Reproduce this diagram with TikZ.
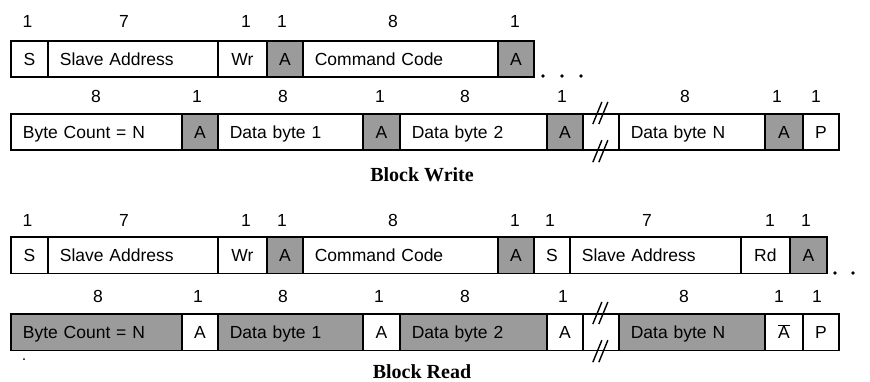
\documentclass[tikz,border=0pt]{standalone}
\usepackage{fontspec}
\setmainfont{Liberation Sans}
\newfontfamily\titlefont{Liberation Serif}
\definecolor{ackgray}{RGB}{155,155,155}
\begin{document}
\begin{tikzpicture}[x=1pt,y=-1pt,
  cell/.style={draw=black, line width=1.7pt, minimum height=36.5pt, inner ysep=0pt,
    anchor=north west, text height=12.5pt, text depth=0pt,
    font=\fontsize{17.5}{20}\selectfont},
  bit/.style={cell, minimum width=#1, inner xsep=0pt},
  wide/.style={cell, text width=#1, inner xsep=12pt, align=left},
  ack/.style={fill=ackgray},
  num/.style={inner sep=0pt, font=\fontsize{17.5}{20}\selectfont},
  title/.style={inner sep=0pt, font=\titlefont\bfseries\fontsize{20}{24}\selectfont},
  brkline/.style={line width=1.4pt}]
\useasboundingbox (0,0) rectangle (870,382);

% ---------------- Block Write, line 1
\node[num] (w1n1) at (27.5,21) {1};
\node[num] (w1n2) at (124,21) {7};
\node[num] (w1n3) at (246,21) {1};
\node[num] (w1n4) at (282,21) {1};
\node[num] (w1n5) at (393,21) {8};
\node[num] (w1n6) at (515,21) {1};

\node[bit=37pt] (ws1) at (10,40) {S};
\node[wide=146pt] (wsa1) at (47,40) {Slave Address};
\node[bit=49pt] (wwr) at (217,40) {Wr};
\node[bit=36pt, ack] (wa1) at (266,40) {A};
\node[wide=171pt] (wcc) at (302,40) {Command Code};
\node[bit=36pt, ack] (wa2) at (497,40) {A};
\fill (543,76) circle (1.8pt) (562,76) circle (1.8pt) (581,76) circle (1.8pt);

% ---------------- Block Write, line 2
\node[num] (w2n1) at (96,96) {8};
\node[num] (w2n2) at (197,96) {1};
\node[num] (w2n3) at (283,96) {8};
\node[num] (w2n4) at (380,96) {1};
\node[num] (w2n5) at (465,96) {8};
\node[num] (w2n6) at (562,96) {1};
\node[num] (w2n7) at (685,96) {8};
\node[num] (w2n8) at (777,96) {1};
\node[num] (w2n9) at (816,96) {1};

\node[wide=147pt] (wbc) at (10,113) {Byte Count = N};
\node[bit=36pt, ack] (wa3) at (181,113) {A};
\node[wide=121pt] (wd1) at (217,113) {Data byte 1};
\node[bit=37pt, ack] (wa4) at (362,113) {A};
\node[wide=123pt] (wd2) at (399,113) {Data byte 2};
\node[bit=36pt, ack] (wa5) at (546,113) {A};
\node[bit=36pt] (wbrk) at (582,113) {};
\node[wide=122pt] (wdn) at (618,113) {Data byte N};
\node[bit=38pt, ack] (wa6) at (764,113) {A};
\node[bit=36pt] (wp) at (802,113) {P};
\foreach \a in {north,south}{
  \draw[brkline] ([xshift=-8pt,yshift=-11pt]wbrk.\a) -- ([xshift=1pt,yshift=11pt]wbrk.\a);
  \draw[brkline] ([xshift=-2pt,yshift=-11pt]wbrk.\a) -- ([xshift=7pt,yshift=11pt]wbrk.\a);
}
\node[title] (twrite) at (422,175) {Block Write};

% ---------------- Block Read, line 1
\node[num] (r1n1) at (27.5,220) {1};
\node[num] (r1n2) at (124,220) {7};
\node[num] (r1n3) at (246,220) {1};
\node[num] (r1n4) at (282,220) {1};
\node[num] (r1n5) at (393,220) {8};
\node[num] (r1n6) at (515,220) {1};
\node[num] (r1n7) at (550,220) {1};
\node[num] (r1n8) at (647,220) {7};
\node[num] (r1n9) at (770,220) {1};
\node[num] (r1n10) at (806,220) {1};

\node[bit=37pt] (rs1) at (10,236) {S};
\node[wide=146pt] (rsa1) at (47,236) {Slave Address};
\node[bit=49pt] (rwr) at (217,236) {Wr};
\node[bit=36pt, ack] (ra1) at (266,236) {A};
\node[wide=171pt] (rcc) at (302,236) {Command Code};
\node[bit=36pt, ack] (ra2) at (497,236) {A};
\node[bit=36pt] (rs2) at (533,236) {S};
\node[wide=147pt] (rsa2) at (569,236) {Slave Address};
\node[bit=49pt] (rrd) at (740,236) {Rd};
\node[bit=37pt, ack] (ra3) at (789,236) {A};
\fill (835,273) circle (1.8pt) (853,273) circle (1.8pt);

% ---------------- Block Read, line 2
\node[num] (r2n1) at (98,296) {8};
\node[num] (r2n2) at (198,296) {1};
\node[num] (r2n3) at (283,296) {8};
\node[num] (r2n4) at (379,296) {1};
\node[num] (r2n5) at (465,296) {8};
\node[num] (r2n6) at (563,296) {1};
\node[num] (r2n7) at (684,296) {8};
\node[num] (r2n8) at (779,296) {1};
\node[num] (r2n9) at (817,296) {1};

\node[wide=147pt, ack] (rbc) at (10,313) {Byte Count = N};
\node[bit=36pt] (ra4) at (181,313) {A};
\node[wide=121pt, ack] (rd1) at (217,313) {Data byte 1};
\node[bit=37pt] (ra5) at (362,313) {A};
\node[wide=123pt, ack] (rd2) at (399,313) {Data byte 2};
\node[bit=36pt] (ra6) at (546,313) {A};
\node[bit=36pt] (rbrk) at (582,313) {};
\node[wide=122pt, ack] (rdn) at (618,313) {Data byte N};
\node[bit=38pt] (rna) at (764,313) {$\overline{\mbox{A}}$};
\node[bit=36pt] (rp) at (802,313) {P};
\foreach \a in {north,south}{
  \draw[brkline] ([xshift=-8pt,yshift=-11pt]rbrk.\a) -- ([xshift=1pt,yshift=11pt]rbrk.\a);
  \draw[brkline] ([xshift=-2pt,yshift=-11pt]rbrk.\a) -- ([xshift=7pt,yshift=11pt]rbrk.\a);
}
\fill (24,359) circle (1pt);
\node[title] (tread) at (422,371.5) {Block Read};
\end{tikzpicture}
\end{document}
